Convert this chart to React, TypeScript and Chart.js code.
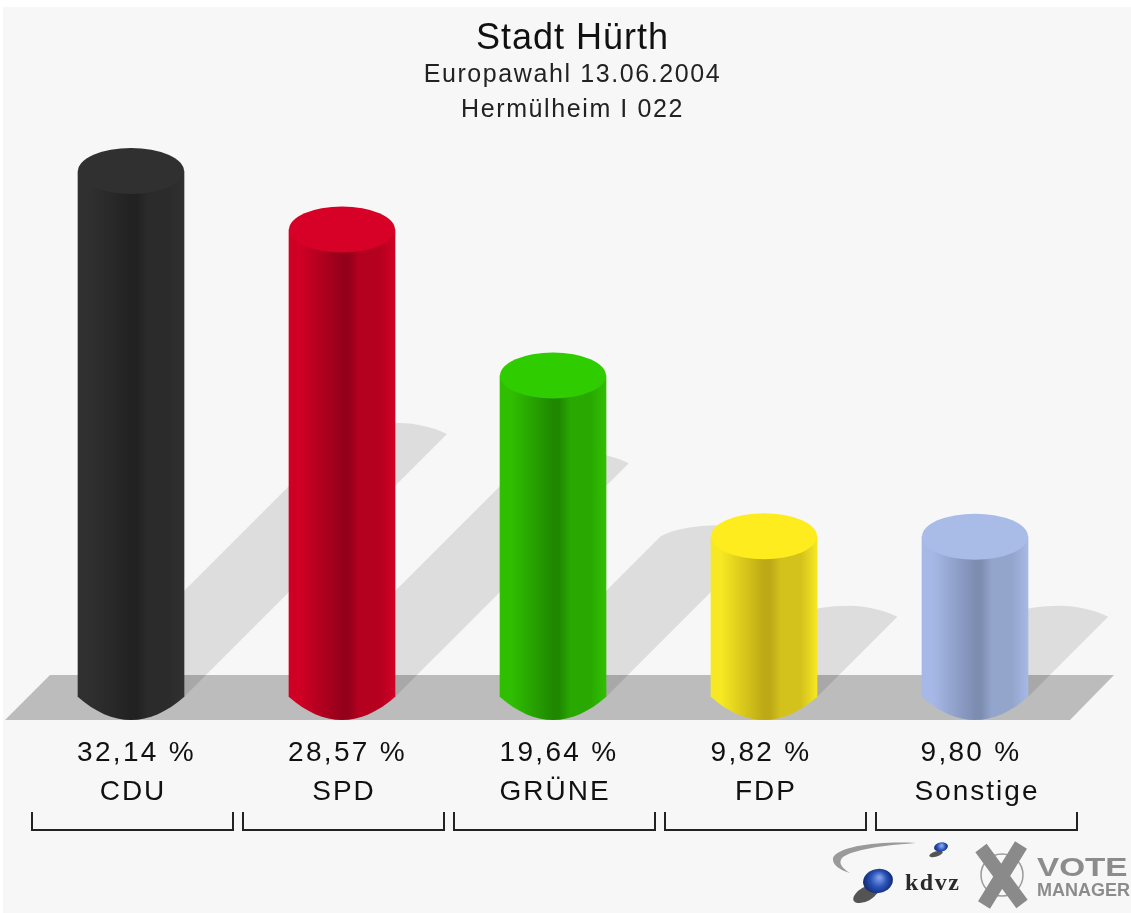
import React, { useEffect, useRef } from "react";
import { Chart, registerables } from "chart.js";

Chart.register(...registerables);

const categories = ["CDU", "SPD", "GRÜNE", "FDP", "Sonstige"];
const shares = [32.14, 28.57, 19.64, 9.82, 9.8];
const titleText = "Stadt Hürth";
const subtitleLines = ["Europawahl 13.06.2004", "Hermülheim I 022"];
const edgeColors = ["#303030", "#d00025", "#30bf00", "#f6e822", "#a6b8e6"];
const darkColors = ["#222222", "#94001a", "#1f8800", "#bda916", "#7d8db2"];
const midColors = ["#2b2b2b", "#b5001f", "#28a800", "#d4c21c", "#94a5cc"];
const capColors = ["#303030", "#d70027", "#2fcd00", "#ffec1f", "#a9bce8"];
const valueOffsets = [5.5, 5.5, 6, -3, -4];

const FONT = '"Liberation Sans", Arial, sans-serif';
const INK = "#111111";
const fmt = (v: number) => v.toFixed(2).replace(".", ",") + " %";

function spaced(ctx: any, spacing: string, fn: () => void) {
  const prev = ctx.letterSpacing;
  ctx.letterSpacing = spacing;
  fn();
  ctx.letterSpacing = prev;
}

const scenery = {
  id: "scenery",
  afterLayout(chart: any) {
    const ctx = chart.ctx;
    chart.boxes
      .filter((b: any) => b.position === "top" && !b._shifted)
      .forEach((b: any) => {
        b._shifted = true;
        b.left += 39;
        const draw = b.draw.bind(b);
        const sp = b === chart.titleBlock ? "1px" : "1.6px";
        b.draw = (area: any) => spaced(ctx, sp, () => draw(area));
      });
    const x = chart.scales.x;
    if (!x._shifted) {
      x._shifted = true;
      const drawLabels = x.drawLabels.bind(x);
      x.drawLabels = (area: any) => spaced(ctx, "2px", () => drawLabels(area));
    }
  },
  beforeDraw(chart: any) {
    const { ctx, width, height } = chart;
    ctx.save();
    ctx.fillStyle = "#ffffff";
    ctx.fillRect(0, 0, width, height);
    ctx.fillStyle = "#f7f7f7";
    ctx.fillRect(3, 7, width - 3, height - 7);
    ctx.restore();
  },
  beforeDatasetsDraw(chart: any) {
    const ctx = chart.ctx;
    const bars = chart.getDatasetMeta(0).data;
    const base = bars[0].base;
    const w = bars[0].width;
    ctx.save();
    // floor
    ctx.fillStyle = "#bcbcbc";
    ctx.beginPath();
    ctx.moveTo(5, base + 23);
    ctx.lineTo(1070, base + 23);
    ctx.lineTo(1114, base - 22);
    ctx.lineTo(50, base - 22);
    ctx.closePath();
    ctx.fill();
    // cast shadows, one path so that overlaps do not double up
    ctx.fillStyle = "rgba(0,0,0,0.1)";
    ctx.beginPath();
    bars.forEach((bar: any) => {
      const h = bar.base - bar.y;
      const cx = bar.x + h / 2;
      const cy = bar.base - h / 2;
      const l = cx - w / 2;
      const r = cx + w / 2;
      ctx.moveTo(bar.x - w / 2, bar.base);
      ctx.lineTo(l, cy);
      ctx.bezierCurveTo(l + 14, cy - 7, l + 32, cy - 11, cx + 6, cy - 11);
      ctx.bezierCurveTo(r - 32, cy - 11, r - 14, cy - 7, r, cy);
      ctx.lineTo(bar.x + w / 2, bar.base);
      ctx.closePath();
    });
    ctx.fill();
    // rounded foot of each cylinder
    bars.forEach((bar: any) => {
      const l = bar.x - w / 2;
      const r = bar.x + w / 2;
      ctx.fillStyle = bar.options.backgroundColor;
      ctx.beginPath();
      ctx.moveTo(l, bar.base - 1);
      ctx.lineTo(l, bar.base);
      ctx.bezierCurveTo(l + 17, bar.base + 15, l + 35, bar.base + 23, bar.x, bar.base + 23);
      ctx.bezierCurveTo(r - 35, bar.base + 23, r - 17, bar.base + 15, r, bar.base);
      ctx.lineTo(r, bar.base - 1);
      ctx.closePath();
      ctx.fill();
    });
    ctx.restore();
  },
  afterDatasetsDraw(chart: any) {
    const ctx = chart.ctx;
    const bars = chart.getDatasetMeta(0).data;
    ctx.save();
    bars.forEach((bar: any, i: number) => {
      ctx.fillStyle = capColors[i];
      ctx.beginPath();
      ctx.ellipse(bar.x, bar.y, bar.width / 2, 23, 0, 0, 2 * Math.PI);
      ctx.fill();
    });
    ctx.restore();
  },
  afterDraw(chart: any) {
    const ctx = chart.ctx;
    const x = chart.scales.x;
    ctx.save();
    // value labels
    ctx.fillStyle = INK;
    ctx.font = `28px ${FONT}`;
    ctx.textAlign = "center";
    ctx.textBaseline = "middle";
    spaced(ctx, "2.3px", () => {
      shares.forEach((v, i) => {
        ctx.fillText(fmt(v), x.getPixelForValue(i) + valueOffsets[i], 753);
      });
    });
    // brackets
    ctx.strokeStyle = "#222222";
    ctx.lineWidth = 2;
    categories.forEach((_, i) => {
      const c = x.getPixelForValue(i) + 1.5;
      ctx.beginPath();
      ctx.moveTo(c - 100.5, 812);
      ctx.lineTo(c - 100.5, 830);
      ctx.lineTo(c + 100.5, 830);
      ctx.lineTo(c + 100.5, 812);
      ctx.stroke();
    });
    drawLogo(ctx);
    ctx.restore();
  },
};

function drawLogo(ctx: any) {
  // swoosh
  ctx.fillStyle = "#9a9a9a";
  ctx.beginPath();
  ctx.moveTo(916, 843);
  ctx.bezierCurveTo(880, 841, 838, 846, 833, 858);
  ctx.bezierCurveTo(832, 865, 840, 870, 850, 873);
  ctx.bezierCurveTo(842, 868, 838, 863, 842, 858);
  ctx.bezierCurveTo(850, 850, 885, 845, 916, 843);
  ctx.fill();
  // balls
  ctx.fillStyle = "rgba(30,30,30,0.75)";
  ctx.beginPath();
  ctx.ellipse(866, 894, 14, 7, -0.5, 0, 2 * Math.PI);
  ctx.fill();
  ctx.beginPath();
  ctx.ellipse(936, 854, 7, 2.5, -0.3, 0, 2 * Math.PI);
  ctx.fill();
  const ball = (cx: number, cy: number, rx: number, ry: number) => {
    const g = ctx.createRadialGradient(cx + rx * 0.1, cy - ry * 0.3, 1, cx, cy, rx);
    g.addColorStop(0, "#7f9fe8");
    g.addColorStop(0.5, "#2a52b8");
    g.addColorStop(1, "#10286e");
    ctx.fillStyle = g;
    ctx.beginPath();
    ctx.ellipse(cx, cy, rx, ry, -0.2, 0, 2 * Math.PI);
    ctx.fill();
  };
  ball(878, 881, 15, 12);
  ball(941, 847, 7, 4.5);
  ctx.textAlign = "left";
  ctx.textBaseline = "alphabetic";
  ctx.fillStyle = "#2a2a2a";
  ctx.font = 'bold 24px "Liberation Serif", serif';
  spaced(ctx, "1.5px", () => ctx.fillText("kdvz", 905, 890));
  // crossed mark
  ctx.strokeStyle = "#9b9b9b";
  ctx.lineWidth = 1.5;
  ctx.beginPath();
  ctx.arc(1002, 875, 21, 0, 2 * Math.PI);
  ctx.stroke();
  ctx.strokeStyle = "#8a8a8a";
  ctx.lineWidth = 14;
  ctx.beginPath();
  ctx.moveTo(981, 848);
  ctx.lineTo(1022, 904);
  ctx.moveTo(1021, 845);
  ctx.lineTo(984, 905);
  ctx.stroke();
  ctx.fillStyle = "#8c8c8c";
  ctx.letterSpacing = "0px";
  ctx.font = `bold 25px ${FONT}`;
  ctx.save();
  ctx.translate(1037, 876);
  ctx.scale(1.33, 1);
  ctx.fillText("VOTE", 0, 0);
  ctx.restore();
  ctx.font = `bold 18px ${FONT}`;
  ctx.fillText("MANAGER", 1037, 896);
}

export default function App() {
  const ref = useRef<HTMLCanvasElement | null>(null);

  useEffect(() => {
    if (!ref.current) return;
    const chart = new Chart(ref.current, {
      type: "bar",
      data: {
        labels: categories,
        datasets: [
          {
            data: shares,
            barThickness: 106,
            borderWidth: 0,
            backgroundColor: (c: any) => {
              const i = c.dataIndex;
              if (i === undefined) return edgeColors[0];
              const m = c.chart.scales?.x?.getPixelForValue(i);
              if (!Number.isFinite(m)) return edgeColors[i];
              const g = c.chart.ctx.createLinearGradient(m - 53, 0, m + 53, 0);
              g.addColorStop(0, edgeColors[i]);
              g.addColorStop(0.1, edgeColors[i]);
              g.addColorStop(0.5, darkColors[i]);
              g.addColorStop(0.56, darkColors[i]);
              g.addColorStop(0.66, midColors[i]);
              g.addColorStop(0.85, midColors[i]);
              g.addColorStop(1, edgeColors[i]);
              return g;
            },
          },
        ],
      },
      options: {
        responsive: false,
        animation: false,
        layout: { padding: { top: 20.5, left: 25.5, right: 50.5, bottom: 26.4 } },
        scales: {
          x: {
            grid: { display: false, drawTicks: false },
            border: { display: false },
            ticks: {
              color: INK,
              padding: 78,
              labelOffset: 2,
              maxRotation: 0,
              autoSkip: false,
              font: { family: FONT, size: 28 },
            },
          },
          y: { display: false, min: 0, max: 34 },
        },
        plugins: {
          legend: { display: false },
          tooltip: { enabled: false },
          title: {
            display: true,
            text: titleText,
            color: INK,
            padding: 0,
            font: { family: FONT, size: 36, weight: "normal", lineHeight: 1.017 },
          },
          subtitle: {
            display: true,
            text: subtitleLines,
            color: "#222222",
            padding: { top: 0, bottom: 13.5 },
            font: { family: FONT, size: 25, weight: "normal", lineHeight: 1.4 },
          },
        },
      },
      plugins: [scenery],
    } as any);
    return () => chart.destroy();
  }, []);

  return (
    <canvas
      ref={ref}
      width={1131}
      height={913}
      style={{ position: "absolute", left: 0, top: 0, width: 1131, height: 913, filter: "blur(0.6px)" }}
    />
  );
}
